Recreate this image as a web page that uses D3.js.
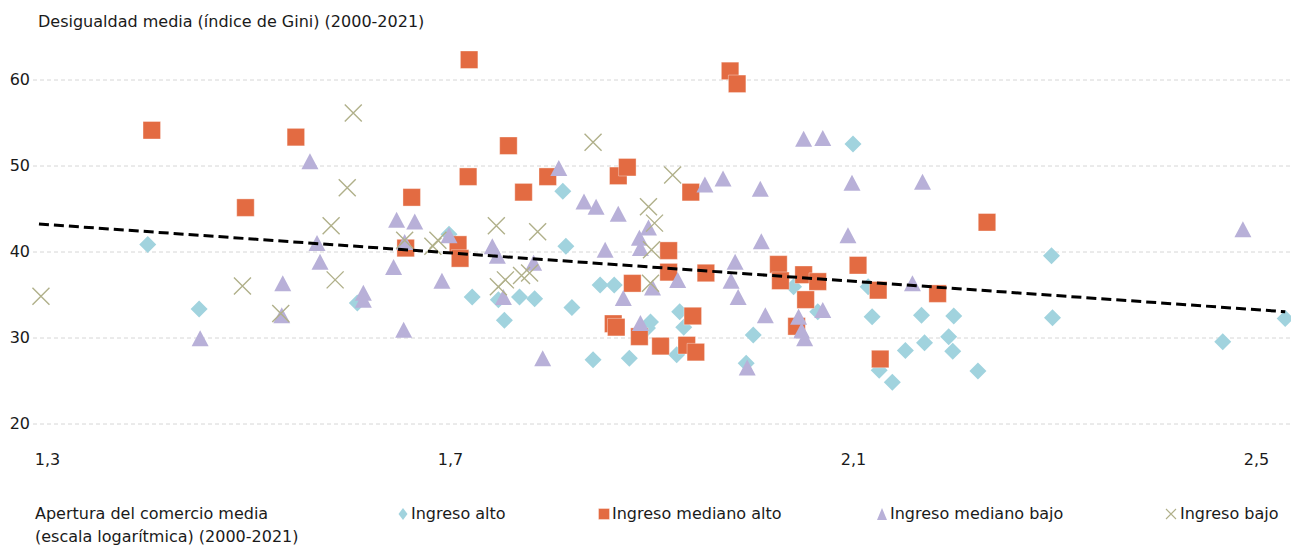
<!DOCTYPE html>
<html>
<head>
<meta charset="utf-8">
<script src="https://cdn.jsdelivr.net/npm/d3@7"></script>
<style>
  body { margin: 0; background: #fff; }
  text { font-family: "DejaVu Sans", sans-serif; fill: #1a1a1a; }
</style>
</head>
<body>
<svg id="chart" width="1291" height="548"></svg>
<script>
// Axis ticks
const yTicks = [20, 30, 40, 50, 60];
const xTicks = [1.3, 1.7, 2.1, 2.5];

// Average trade openness (log) vs. average Gini index, by income group
const ingresoAlto = [
  [1.400, 40.8], [1.451, 33.3], [1.608, 34.0], [1.699, 42.0], [1.722, 34.7],
  [1.748, 34.4], [1.754, 32.0], [1.769, 34.7], [1.784, 34.5], [1.812, 47.0],
  [1.815, 40.6], [1.821, 33.5], [1.842, 27.4], [1.849, 36.1], [1.863, 36.1],
  [1.878, 27.6], [1.896, 31.1], [1.899, 31.8], [1.928, 33.0], [1.932, 31.2],
  [1.925, 28.0], [1.994, 27.0], [2.001, 30.3], [2.041, 35.9], [2.065, 33.0],
  [2.100, 52.5], [2.115, 35.9], [2.119, 32.4], [2.126, 26.2], [2.139, 24.8],
  [2.152, 28.5], [2.168, 32.6], [2.171, 29.4], [2.195, 30.1], [2.200, 32.5],
  [2.199, 28.4], [2.224, 26.1], [2.297, 39.5], [2.298, 32.3], [2.467, 29.5],
  [2.529, 32.2]
];
const ingresoMedianoAlto = [
  [1.404, 54.1], [1.497, 45.1], [1.547, 53.3], [1.656, 40.4], [1.662, 46.3],
  [1.708, 40.8], [1.710, 39.2], [1.718, 48.7], [1.719, 62.3], [1.758, 52.3],
  [1.773, 46.9], [1.797, 48.7], [1.862, 31.6], [1.865, 31.2], [1.867, 48.8],
  [1.876, 49.8], [1.881, 36.3], [1.888, 30.1], [1.909, 29.0], [1.917, 40.1],
  [1.917, 37.6], [1.935, 29.1], [1.939, 46.9], [1.941, 32.5], [1.944, 28.3],
  [1.954, 37.5], [1.978, 61.0], [1.985, 59.5], [2.026, 38.5], [2.028, 36.6],
  [2.044, 31.3], [2.051, 37.3], [2.053, 34.4], [2.065, 36.5], [2.105, 38.4],
  [2.125, 35.5], [2.127, 27.5], [2.184, 35.1], [2.233, 43.4]
];
const ingresoMedianoBajo = [
  [1.452, 29.9], [1.533, 32.6], [1.534, 36.3], [1.561, 50.5], [1.568, 41.0],
  [1.571, 38.8], [1.614, 35.2], [1.614, 34.4], [1.644, 38.2], [1.647, 43.7],
  [1.654, 30.9], [1.655, 41.1], [1.665, 43.5], [1.692, 36.6], [1.699, 41.9],
  [1.742, 40.6], [1.747, 39.5], [1.753, 34.7], [1.783, 38.7], [1.792, 27.6],
  [1.808, 49.7], [1.833, 45.8], [1.845, 45.2], [1.854, 40.2], [1.867, 44.4],
  [1.872, 34.6], [1.888, 41.6], [1.889, 40.4], [1.889, 31.7], [1.897, 42.8],
  [1.901, 35.8], [1.926, 36.7], [1.953, 47.8], [1.971, 48.5], [1.979, 36.6],
  [1.983, 38.8], [1.986, 34.7], [1.995, 26.5], [2.008, 47.3], [2.009, 41.2],
  [2.013, 32.6], [2.046, 32.4], [2.049, 30.8], [2.052, 29.9], [2.051, 53.1],
  [2.070, 53.2], [2.070, 33.2], [2.095, 41.9], [2.099, 48.0], [2.159, 36.3],
  [2.169, 48.1], [2.487, 42.6]
];
const ingresoBajo = [
  [1.294, 34.8], [1.494, 36.0], [1.532, 32.8], [1.582, 43.0], [1.586, 36.7],
  [1.598, 47.4], [1.604, 56.1], [1.655, 41.3], [1.683, 40.6], [1.688, 41.3],
  [1.746, 43.0], [1.748, 35.9], [1.755, 36.7], [1.771, 37.2], [1.779, 37.5],
  [1.787, 42.3], [1.842, 52.7], [1.897, 45.2], [1.899, 36.3], [1.900, 40.2],
  [1.903, 43.3], [1.921, 48.9]
];

// Fitted linear trend (end points)
const trendX = [1.292, 2.529];
const trendY = [43.2, 33.0];

const seriesNames = ["Ingreso alto", "Ingreso mediano alto", "Ingreso mediano bajo", "Ingreso bajo"];

// ---------------------------------------------------------------
const svg = d3.select("#chart");
svg.append("rect").attr("width", 1291).attr("height", 548).attr("fill", "#fff");

const x = d3.scaleLinear().domain([1.3, 2.5]).range([47, 1256]);
const y = d3.scaleLinear().domain([20, 60]).range([423.5, 79.5]);

// Horizontal dashed grid + y labels
const yAxis = svg.append("g")
  .attr("transform", "translate(33,0)")
  .call(d3.axisLeft(y).tickValues(yTicks).tickSize(-1258).tickPadding(3));
yAxis.select(".domain").remove();
yAxis.selectAll(".tick line")
  .attr("stroke", "#d6d6d6").attr("stroke-width", 1).attr("stroke-dasharray", "4,3");
yAxis.selectAll(".tick text")
  .attr("font-size", 16).attr("font-family", "DejaVu Sans").attr("fill", "#1a1a1a");

// x labels
const fmt = d => d.toFixed(1).replace(".", ",");
const xAxis = svg.append("g")
  .attr("transform", "translate(0,442)")
  .call(d3.axisBottom(x).tickValues(xTicks).tickSize(0).tickPadding(12).tickFormat(fmt));
xAxis.select(".domain").remove();
xAxis.selectAll(".tick text")
  .attr("font-size", 16).attr("font-family", "DejaVu Sans").attr("fill", "#1a1a1a");

// Titles
svg.append("text").attr("x", 38).attr("y", 27).attr("font-size", 16)
  .text("Desigualdad media (índice de Gini) (2000-2021)");
svg.append("text").attr("x", 35).attr("y", 519).attr("font-size", 16)
  .text("Apertura del comercio media");
svg.append("text").attr("x", 35).attr("y", 542).attr("font-size", 16)
  .text("(escala logarítmica) (2000-2021)");

// Marker shapes
const colors = ["#a1d3de", "#e36b42", "#b8b0d8", "#b0b08a"];
function diamondPath(w, h) { return `M0,${-h/2}L${w/2},0L0,${h/2}L${-w/2},0Z`; }
function squarePath(s) { return `M${-s/2},${-s/2}h${s}v${s}h${-s}Z`; }
function trianglePath(w, h) { return `M0,${-h/2}L${w/2},${h/2}L${-w/2},${h/2}Z`; }
function crossPath(s) { const a = s/2; return `M${-a},${-a}L${a},${a}M${-a},${a}L${a},${-a}`; }

function drawMarker(sel, kind, big) {
  if (kind === 0) {
    sel.append("path").attr("d", big ? diamondPath(17, 17) : diamondPath(9, 12))
      .attr("fill", colors[0]);
  } else if (kind === 1) {
    sel.append("path").attr("d", squarePath(big ? 17.5 : 11))
      .attr("fill", colors[1]).attr("stroke", "rgba(255,255,255,0.45)").attr("stroke-width", 0.8);
  } else if (kind === 2) {
    sel.append("path").attr("d", big ? trianglePath(17, 16) : trianglePath(10, 12))
      .attr("fill", colors[2]);
  } else {
    sel.append("path").attr("d", crossPath(big ? 17 : 10))
      .attr("fill", "none").attr("stroke", colors[3]).attr("stroke-width", big ? 1.4 : 1.1);
  }
}

const allSeries = [ingresoAlto, ingresoMedianoAlto, ingresoMedianoBajo, ingresoBajo];
allSeries.forEach((data, k) => {
  const g = svg.append("g");
  g.selectAll("g.pt").data(data).join("g")
    .attr("class", "pt")
    .attr("transform", d => `translate(${x(d[0])},${y(d[1])})`)
    .each(function() { drawMarker(d3.select(this), k, true); });
});

// Trend line
svg.append("line")
  .attr("x1", x(trendX[0])).attr("y1", y(trendY[0]))
  .attr("x2", x(trendX[1])).attr("y2", y(trendY[1]))
  .attr("stroke", "#000").attr("stroke-width", 3).attr("stroke-dasharray", "10,5");

// Legend
const legendX = [403, 604, 882, 1171];
seriesNames.forEach((name, k) => {
  const g = svg.append("g").attr("transform", `translate(${legendX[k]},514)`);
  drawMarker(g, k, false);
  g.append("text").attr("x", k === 3 ? 9 : 8).attr("y", 5).attr("font-size", 16).text(name);
});
</script>
</body>
</html>
